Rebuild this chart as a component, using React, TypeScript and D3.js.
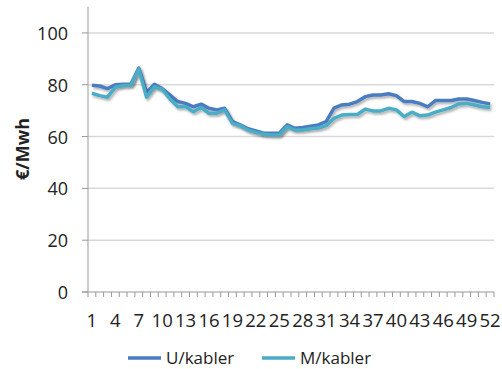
import React from 'react';
import * as d3 from 'd3';

// weeks 1..52
const weeks: number[] = d3.range(1, 53);

const uKabler: number[] = [
  79.8, 79.5, 78.5, 80, 80.2, 80.3, 86.4, 77, 80.2, 78.5,
  76, 73.5, 72.8, 71.5, 72.5, 70.9, 70.3, 70.9, 65.8, 64.5,
  63, 62.2, 61.3, 61.3, 61.3, 64.5, 63.2, 63.5, 64, 64.5,
  65.8, 71, 72.2, 72.5, 73.5, 75.4, 76, 76, 76.5, 75.8,
  73.5, 73.5, 72.8, 71.5, 73.9, 73.9, 73.9, 74.5, 74.5, 73.9,
  73.2, 72.6,
];

const mKabler: number[] = [
  76.7, 75.8, 75.2, 79, 79.7, 79.8, 86, 75.2, 79.2, 78.3,
  74.5, 71.5, 71.5, 69.6, 71.2, 69, 69, 70.3, 65.1, 64.2,
  62.5, 61.6, 60.9, 60.6, 60.6, 63.8, 62.5, 62.5, 63, 63.3,
  64.2, 67, 68.3, 68.5, 68.5, 70.6, 69.9, 69.9, 70.9, 70.3,
  67.7, 69.4, 68, 68.3, 69.4, 70.3, 71.2, 72.6, 72.8, 72.2,
  71.5, 71.2,
];

const yTicks: number[] = [0, 20, 40, 60, 80, 100];
const xLabelWeeks: number[] = weeks.filter((w) => (w - 1) % 3 === 0);

const seriesNames = ['U/kabler', 'M/kabler'];
const seriesColors = ['#4A7DC0', '#4BACC6'];

function App() {
  const left = 88;
  const right = 494;
  const top = 7;
  const bottom = 292;

  const x = d3.scaleBand<number>().domain(weeks).range([left, right]).padding(0);
  const y = d3.scaleLinear().domain([0, 110]).range([bottom, top]);
  const cx = (w: number) => x(w)! + x.bandwidth() / 2;

  const line = d3
    .line<number>()
    .x((_, i) => cx(weeks[i]))
    .y((d) => y(d));

  const series = [uKabler, mKabler];
  const font = '"Open Sans", "Noto Sans", sans-serif';

  return (
    <svg width={502} height={369} style={{ position: 'absolute', left: 0, top: 0 }}>
      <defs>
        <filter id="shadow" x="-10%" y="-10%" width="120%" height="130%">
          <feDropShadow dx="1.5" dy="2" stdDeviation="1.2" floodColor="#000" floodOpacity="0.3" />
        </filter>
      </defs>
      <rect width={502} height={369} fill="#fff" />

      {/* gridlines */}
      {yTicks
        .filter((t) => t > 0)
        .map((t) => (
          <line key={'g' + t} x1={left} x2={right} y1={y(t)} y2={y(t)} stroke="#d9d9d9" strokeWidth={1.5} />
        ))}

      {/* y axis */}
      <line x1={left} x2={left} y1={top} y2={bottom} stroke="#999" strokeWidth={1} />
      {yTicks.map((t) => (
        <g key={'y' + t}>
          <line x1={left - 6} x2={left} y1={y(t)} y2={y(t)} stroke="#999" />
          <text
            x={68}
            y={y(t)}
            textAnchor="end"
            dominantBaseline="central"
            fontFamily={font}
            fontSize={18}
            fill="#222"
          >
            {t}
          </text>
        </g>
      ))}

      {/* x axis */}
      <line x1={left - 6} x2={right} y1={bottom} y2={bottom} stroke="#999" />
      {weeks.map((w) => (
        <line key={'xt' + w} x1={x(w)!} x2={x(w)!} y1={bottom} y2={bottom + 5} stroke="#999" />
      ))}
      <line x1={right} x2={right} y1={bottom} y2={bottom + 5} stroke="#999" />
      {xLabelWeeks.map((w) => (
        <text
          key={'xl' + w}
          x={cx(w)}
          y={319}
          textAnchor="middle"
          dominantBaseline="central"
          fontFamily={font}
          fontSize={18.5}
          fill="#222"
        >
          {w}
        </text>
      ))}

      {/* y axis title */}
      <text
        transform="translate(22,149) rotate(-90)"
        textAnchor="middle"
        dominantBaseline="central"
        fontFamily={font}
        fontSize={18}
        fontWeight="bold"
        fill="#222"
      >
        €/Mwh
      </text>

      {/* lines */}
      {series.map((s, i) => (
        <path
          key={'s' + i}
          d={line(s)!}
          fill="none"
          stroke={seriesColors[i]}
          strokeWidth={3.5}
          strokeLinejoin="round"
          filter="url(#shadow)"
        />
      ))}

      {/* legend */}
      {seriesNames.map((n, i) => {
        const lx = i === 0 ? 128 : 262;
        return (
          <g key={'l' + i}>
            <line x1={lx} x2={lx + 33} y1={358} y2={358} stroke={seriesColors[i]} strokeWidth={3.5} />
            <text x={lx + 38} y={364} fontFamily={font} fontSize={17} fill="#222">
              {n}
            </text>
          </g>
        );
      })}
    </svg>
  );
}

export default App;
